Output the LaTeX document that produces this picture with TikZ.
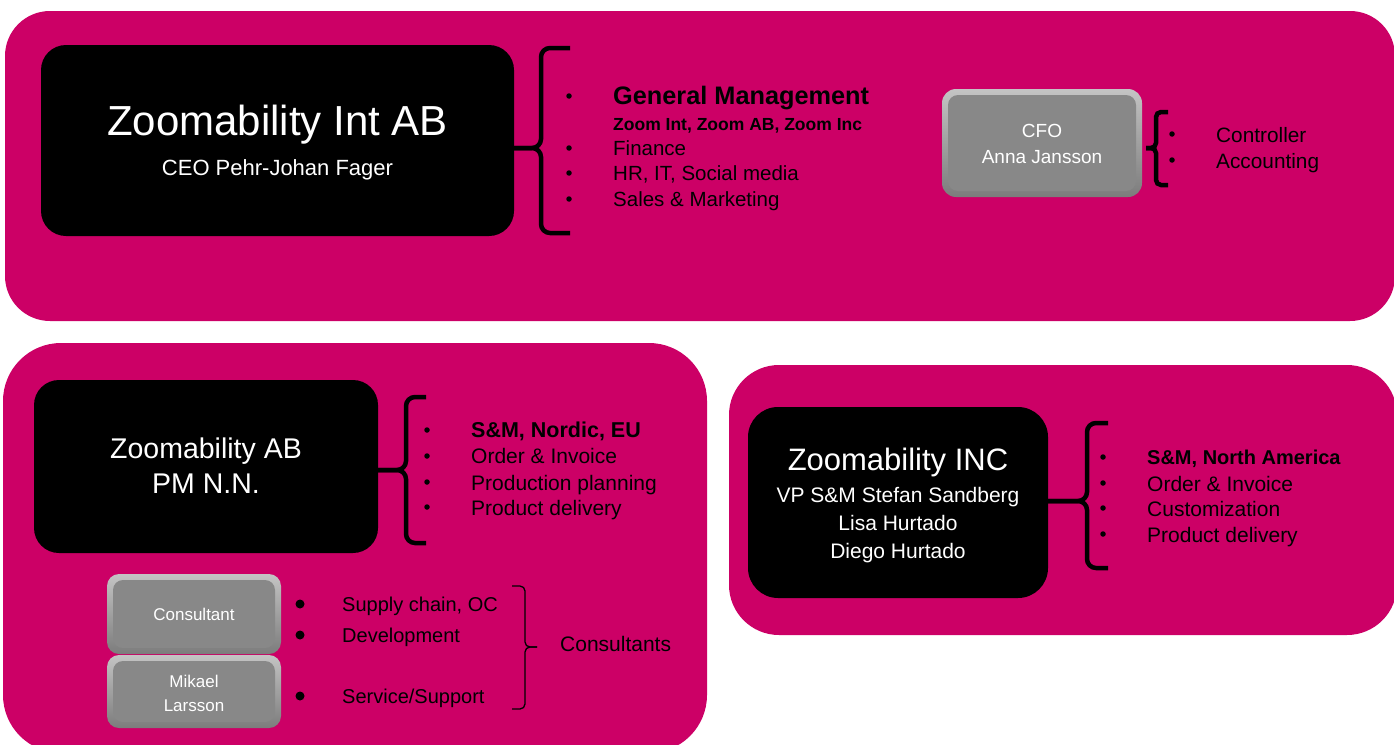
\documentclass[tikz,border=0pt]{standalone}
\usepackage{fontspec}
\setmainfont{Liberation Sans}
\definecolor{zpink}{HTML}{CC0066}
\definecolor{btngray}{HTML}{888888}
\definecolor{btnlight}{HTML}{C4C4C4}
\definecolor{btndark}{HTML}{7C7C7C}
\newcommand{\fsz}[1]{\fontsize{#1}{#1}\selectfont}
\begin{document}
\begin{tikzpicture}[x=1pt,y=-1pt,
  panel/.style={fill=zpink, draw=none, inner sep=0pt},
  blackbox/.style={fill=black, draw=none, rounded corners=25pt, inner sep=0pt},
  graybox/.style={rounded corners=14pt, inner sep=0pt, draw=none,
    top color=btnlight, bottom color=btndark,
    path picture={
      \fill[btngray, rounded corners=10pt]
        ([shift={(6pt,-6pt)}]path picture bounding box.north west) rectangle
        ([shift={(-6pt,6pt)}]path picture bounding box.south east);
    }},
  wtext/.style={text=white, inner sep=0pt, anchor=base},
  ltext/.style={text=black, inner sep=0pt, anchor=base west},
  bracebar/.style={line width=4.5pt, rounded corners=9pt, line cap=butt},
  thinbrace/.style={line width=1.3pt, rounded corners=5pt},
  smalldot/.style={fill=black, circle, inner sep=0pt, minimum size=5.5pt},
  bigdot/.style={fill=black, circle, inner sep=0pt, minimum size=9pt}
]
\useasboundingbox (0,0) rectangle (1394,744);
\clip (0,0) rectangle (1394,744);

% panels
\node[panel, rounded corners=45pt, minimum width=1390pt, minimum height=310pt] (toppanel) at (700,166) {};
\node[panel, rounded corners=58pt, minimum width=704pt, minimum height=410pt] (leftpanel) at (355,548) {};
\node[panel, rounded corners=50pt, minimum width=668pt, minimum height=270pt] (rightpanel) at (1063,500) {};

% boxes
\node[blackbox, minimum width=473pt, minimum height=191pt] (intbox) at (277.5,140.5) {};
\node[graybox, minimum width=200pt, minimum height=108pt] (cfobox) at (1042,143) {};
\node[blackbox, minimum width=344pt, minimum height=173pt] (abbox) at (206,466.5) {};
\node[blackbox, rounded corners=30pt, minimum width=300pt, minimum height=191pt] (incbox) at (898,502.5) {};
\node[graybox, rounded corners=12pt, minimum width=174pt, minimum height=80pt] (consbox) at (194,614) {};
\node[graybox, rounded corners=12pt, minimum width=174pt, minimum height=73pt] (mikbox) at (194,691.5) {};

% box texts
\node[wtext, font=\fsz{42}] (intT) at (277.5,135) {Zoomability Int AB};
\node[wtext, font=\fsz{22}] (intS) at (277.5,175) {CEO Pehr-Johan Fager};
\node[wtext, font=\fsz{19}] (cfoT) at (1042,137) {CFO};
\node[wtext, font=\fsz{19}] (cfoS) at (1042,163) {Anna Jansson};
\node[wtext, font=\fsz{28.5}] (abT) at (206,458) {Zoomability AB};
\node[wtext, font=\fsz{28.5}] (abS) at (206,493) {PM N.N.};
\node[wtext, font=\fsz{31}] (incT) at (898,470) {Zoomability INC};
\node[wtext, font=\fsz{21}] (incA) at (898,502) {VP S\&M Stefan Sandberg};
\node[wtext, font=\fsz{21}] (incB) at (898,530) {Lisa Hurtado};
\node[wtext, font=\fsz{21}] (incC) at (898,558) {Diego Hurtado};
\node[wtext, font=\fsz{17}] (consT) at (194,620) {Consultant};
\node[wtext, font=\fsz{17}] (mikA) at (194,687) {Mikael};
\node[wtext, font=\fsz{17}] (mikB) at (194,711) {Larsson};

% brace tips
\coordinate (inttip) at (intbox.east |- 0,148);
\coordinate (cfotip) at (1146,148);
\coordinate (abtip) at (abbox.east |- 0,470);
\coordinate (inctip) at (incbox.east |- 0,501);
\coordinate (ctip) at (537,647);

% top braces
\draw[bracebar] (570,48) -- (541,48) -- (541,148) -- (inttip);
\draw[bracebar] (570,233) -- (541,233) -- (541,148) -- (inttip);
\draw[bracebar, rounded corners=5pt] (1168,112) -- (1156,112) -- (1156,148) -- (cfotip);
\draw[bracebar, rounded corners=5pt] (1168,185) -- (1156,185) -- (1156,148) -- (cfotip);
% bottom-left brace
\draw[bracebar] (426,397) -- (406,397) -- (406,470) -- (abtip);
\draw[bracebar] (426,543) -- (406,543) -- (406,470) -- (abtip);
% INC brace
\draw[bracebar] (1108,423) -- (1087,423) -- (1087,501) -- (inctip);
\draw[bracebar] (1108,568) -- (1087,568) -- (1087,501) -- (inctip);
% consultants brace
\draw[thinbrace] (512,586) -- (525,586) -- (525,647) -- (ctip);
\draw[thinbrace] (512,709) -- (525,709) -- (525,647) -- (ctip);

% top list
\node[smalldot] (d1) at (569,96) {};
\node[smalldot] (d2) at (569,148) {};
\node[smalldot] (d3) at (569,173) {};
\node[smalldot] (d4) at (569,199) {};
\node[ltext, font=\bfseries\fsz{25.3}] (l1) at (613,104) {General Management};
\node[ltext, font=\bfseries\fsz{17.5}] (l1b) at (613,130) {Zoom Int, Zoom AB, Zoom Inc};
\node[ltext, font=\fsz{20.5}] (l2) at (613,155) {Finance};
\node[ltext, font=\fsz{20.5}] (l3) at (613,180) {HR, IT, Social media};
\node[ltext, font=\fsz{20.5}] (l4) at (613,206) {Sales \& Marketing};

% CFO list
\node[smalldot] (c1) at (1172,134) {};
\node[smalldot] (c2) at (1172,160) {};
\node[ltext, font=\fsz{20.8}] (cl1) at (1216,142) {Controller};
\node[ltext, font=\fsz{20.8}] (cl2) at (1216,168) {Accounting};

% AB list
\node[smalldot] (a1) at (427,430) {};
\node[smalldot] (a2) at (427,456) {};
\node[smalldot] (a3) at (427,482) {};
\node[smalldot] (a4) at (427,507) {};
\node[ltext, font=\bfseries\fsz{21.5}] (al1) at (471,437) {S\&M, Nordic, EU};
\node[ltext, font=\fsz{21}] (al2) at (471,463) {Order \& Invoice};
\node[ltext, font=\fsz{21}] (al3) at (471,490) {Production planning};
\node[ltext, font=\fsz{21}] (al4) at (471,515) {Product delivery};

% INC list
\node[smalldot] (i1) at (1103,457) {};
\node[smalldot] (i2) at (1103,483) {};
\node[smalldot] (i3) at (1103,508) {};
\node[smalldot] (i4) at (1103,534) {};
\node[ltext, font=\bfseries\fsz{20}] (il1) at (1147,464) {S\&M, North America};
\node[ltext, font=\fsz{21}] (il2) at (1147,491) {Order \& Invoice};
\node[ltext, font=\fsz{21}] (il3) at (1147,516) {Customization};
\node[ltext, font=\fsz{21}] (il4) at (1147,542) {Product delivery};

% consultant list
\node[bigdot] (k1) at (300,604) {};
\node[bigdot] (k2) at (300,635) {};
\node[bigdot] (k3) at (300,696) {};
\node[ltext, font=\fsz{20}] (kl1) at (342,611) {Supply chain, OC};
\node[ltext, font=\fsz{20}] (kl2) at (342,642) {Development};
\node[ltext, font=\fsz{20}] (kl3) at (342,703) {Service/Support};
\node[ltext, font=\fsz{21}] (kc) at (560,651) {Consultants};
\end{tikzpicture}
\end{document}
